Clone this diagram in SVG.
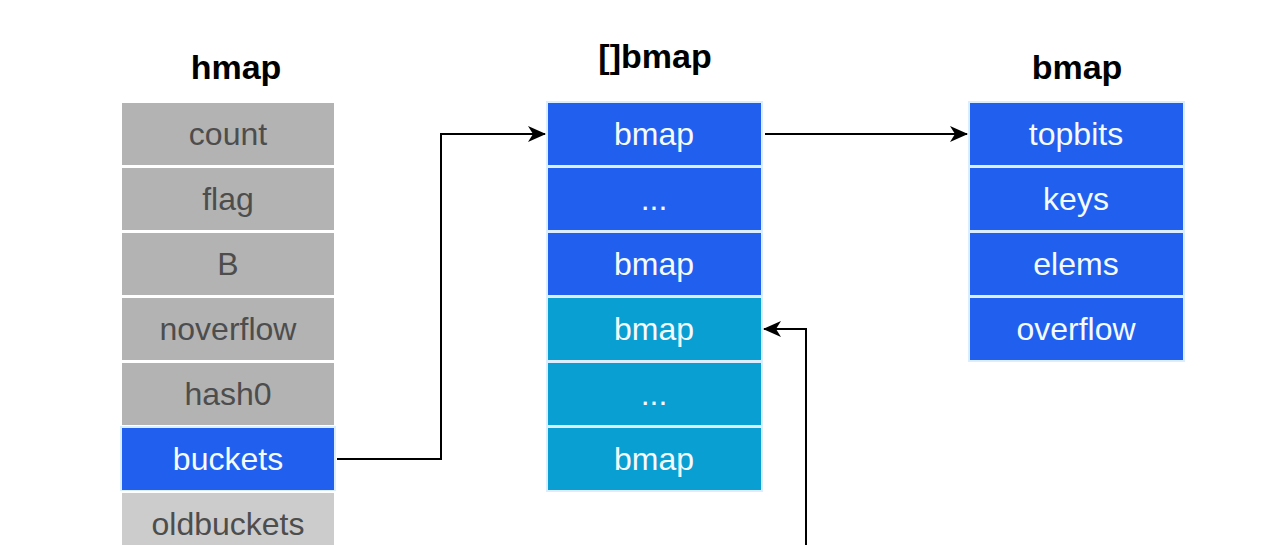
<svg xmlns="http://www.w3.org/2000/svg" width="1280" height="545" viewBox="0 0 1280 545">
<style>
.title{font-family:"Liberation Sans",Arial,sans-serif;font-weight:bold;font-size:34px;fill:#000;text-anchor:middle}
.lbl{font-family:"Liberation Sans",Arial,sans-serif;font-size:32px;text-anchor:middle;dominant-baseline:central}
.gray{fill:#b3b3b3;stroke:#ffffff;stroke-width:2}
.lgray{fill:#cccccc;stroke:#ffffff;stroke-width:2}
.blue{fill:#2160ee;stroke:#dbeeff;stroke-width:2}
.teal{fill:#0a9fd2;stroke:#dbeeff;stroke-width:2}
.dt{fill:#4d4d4d}
.wt{fill:#f4fbff}
.conn{fill:none;stroke:#000;stroke-width:2}
</style>
<defs>
<marker id="arr" viewBox="0 0 18 16" refX="17" refY="8" markerWidth="18" markerHeight="16" markerUnits="userSpaceOnUse" orient="auto">
<path d="M0,0 L18,8 L0,16 L5,8 Z" fill="#000"/>
</marker>
</defs>
<rect width="1280" height="545" fill="#ffffff"/>
<g id="hmap">
<text class="title" x="236" y="79">hmap</text>
<rect class="gray" x="121" y="102" width="214" height="64"/><text class="lbl dt" x="228" y="134">count</text>
<rect class="gray" x="121" y="167" width="214" height="64"/><text class="lbl dt" x="228" y="199">flag</text>
<rect class="gray" x="121" y="232" width="214" height="64"/><text class="lbl dt" x="228" y="264">B</text>
<rect class="gray" x="121" y="297" width="214" height="64"/><text class="lbl dt" x="228" y="329">noverflow</text>
<rect class="gray" x="121" y="362" width="214" height="64"/><text class="lbl dt" x="228" y="394">hash0</text>
<rect class="blue" x="121" y="427" width="214" height="64"/><text class="lbl wt" x="228" y="459">buckets</text>
<rect class="lgray" x="121" y="492" width="214" height="64"/><text class="lbl dt" x="228" y="524">oldbuckets</text>
</g>
<g id="bmap-array">
<text class="title" x="655" y="68">[]bmap</text>
<rect class="blue" x="547" y="102" width="215" height="64"/><text class="lbl wt" x="654" y="134">bmap</text>
<rect class="blue" x="547" y="167" width="215" height="64"/><text class="lbl wt" x="654" y="199">...</text>
<rect class="blue" x="547" y="232" width="215" height="64"/><text class="lbl wt" x="654" y="264">bmap</text>
<rect class="teal" x="547" y="297" width="215" height="64"/><text class="lbl wt" x="654" y="329">bmap</text>
<rect class="teal" x="547" y="362" width="215" height="64"/><text class="lbl wt" x="654" y="394">...</text>
<rect class="teal" x="547" y="427" width="215" height="64"/><text class="lbl wt" x="654" y="459">bmap</text>
</g>
<g id="bmap">
<text class="title" x="1077" y="79">bmap</text>
<rect class="blue" x="969" y="102" width="215" height="64"/><text class="lbl wt" x="1076" y="134">topbits</text>
<rect class="blue" x="969" y="167" width="215" height="64"/><text class="lbl wt" x="1076" y="199">keys</text>
<rect class="blue" x="969" y="232" width="215" height="64"/><text class="lbl wt" x="1076" y="264">elems</text>
<rect class="blue" x="969" y="297" width="215" height="64"/><text class="lbl wt" x="1076" y="329">overflow</text>
</g>
<g id="connectors">
<path class="conn" d="M337,459 H441 V134 H545" marker-end="url(#arr)"/>
<path class="conn" d="M765,134 H967" marker-end="url(#arr)"/>
<path class="conn" d="M806,545 V329 H764" marker-end="url(#arr)"/>
</g>
</svg>
